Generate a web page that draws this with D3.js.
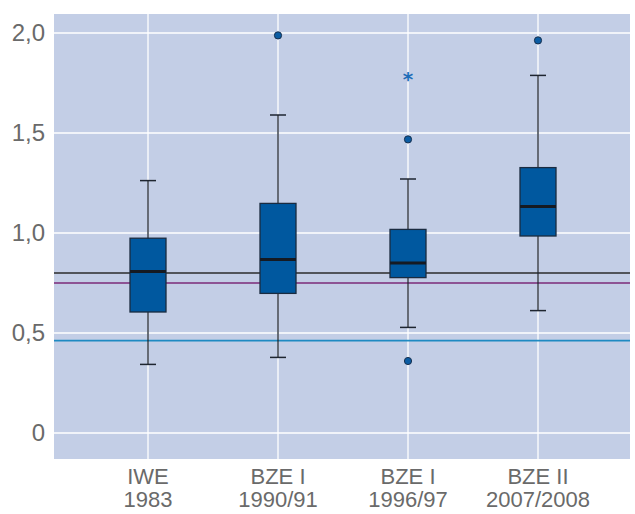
<!DOCTYPE html>
<html>
<head>
<meta charset="utf-8">
<script src="https://cdn.jsdelivr.net/npm/d3@7"></script>
<style>
  body { margin: 0; background: #fff; }
  svg text { font-family: "Liberation Sans", Arial, sans-serif; fill: #6a6a6a; }
</style>
</head>
<body>
<div id="chart"></div>
<script>
// categories (two-line labels)
const labelTop = ["IWE", "BZE I", "BZE I", "BZE II"];
const labelBottom = ["1983", "1990/91", "1996/97", "2007/2008"];
const cats = ["c0", "c1", "c2", "c3"];

// box statistics
const whiskerLow = [0.343, 0.378, 0.528, 0.612];
const q1 = [0.605, 0.698, 0.777, 0.985];
const median = [0.807, 0.867, 0.850, 1.132];
const q3 = [0.974, 1.148, 1.018, 1.327];
const whiskerHigh = [1.262, 1.590, 1.270, 1.788];

// outliers: [category index, value]
const outliers = [[1, 1.988], [2, 1.468], [2, 0.360], [3, 1.963]];
const extremes = [[2, 1.778]];

// reference lines
const refValues = [0.80, 0.75, 0.462];
const refColors = ["#2b2b2b", "#7b2a78", "#1f8ac2"];

const yTicks = [0, 0.5, 1.0, 1.5, 2.0];

const width = 635, height = 514;
const plot = {left: 54, right: 630, top: 14, bottom: 459};

const svg = d3.select("#chart").append("svg")
  .attr("width", width)
  .attr("height", height);

const y = d3.scaleLinear()
  .domain([0, 2])
  .range([433, 33]);

const x = d3.scalePoint()
  .domain(cats)
  .range([148, 538]);

// background
svg.append("rect")
  .attr("x", plot.left).attr("y", plot.top)
  .attr("width", plot.right - plot.left)
  .attr("height", plot.bottom - plot.top)
  .attr("fill", "#c3cee6");

// gridlines
svg.append("g").selectAll("line")
  .data(yTicks).enter().append("line")
  .attr("x1", plot.left).attr("x2", plot.right)
  .attr("y1", d => y(d)).attr("y2", d => y(d))
  .attr("stroke", "#fff").attr("stroke-width", 1.3);

svg.append("g").selectAll("line")
  .data(cats).enter().append("line")
  .attr("x1", d => x(d)).attr("x2", d => x(d))
  .attr("y1", plot.top).attr("y2", plot.bottom)
  .attr("stroke", "#fff").attr("stroke-width", 1.3);

// y axis labels
const yAxis = d3.axisLeft(y)
  .tickValues(yTicks)
  .tickSize(0)
  .tickPadding(9)
  .tickFormat(d => d === 0 ? "0" : d3.format(".1f")(d).replace(".", ","));

svg.append("g")
  .attr("transform", `translate(${plot.left},0)`)
  .call(yAxis)
  .call(g => g.select(".domain").remove())
  .selectAll("text")
  .style("font-size", "24px")
  .style("font-family", "'Liberation Sans', Arial, sans-serif")
  .attr("fill", "#6a6a6a");

// x labels, two lines each
const xl = svg.append("g");
cats.forEach(function(c, i) {
  xl.append("text")
    .attr("x", x(c)).attr("y", 484)
    .attr("text-anchor", "middle")
    .style("font-size", "22px")
    .text(labelTop[i]);
  xl.append("text")
    .attr("x", x(c)).attr("y", 507)
    .attr("text-anchor", "middle")
    .style("font-size", "22px")
    .text(labelBottom[i]);
});

// reference lines
svg.append("g").selectAll("line")
  .data(refValues).enter().append("line")
  .attr("x1", plot.left).attr("x2", plot.right)
  .attr("y1", d => y(d)).attr("y2", d => y(d))
  .attr("stroke", (d, i) => refColors[i])
  .attr("stroke-width", 1.6);

// boxes
const boxW = 36, capW = 16;
const boxes = svg.append("g").selectAll("g")
  .data(cats).enter().append("g");

boxes.append("line")
  .attr("x1", d => x(d)).attr("x2", d => x(d))
  .attr("y1", (d, i) => y(whiskerLow[i]))
  .attr("y2", (d, i) => y(whiskerHigh[i]))
  .attr("stroke", "#1e2530").attr("stroke-width", 1.3);

boxes.append("line")
  .attr("x1", d => x(d) - capW / 2).attr("x2", d => x(d) + capW / 2)
  .attr("y1", (d, i) => y(whiskerLow[i]))
  .attr("y2", (d, i) => y(whiskerLow[i]))
  .attr("stroke", "#1e2530").attr("stroke-width", 1.5);

boxes.append("line")
  .attr("x1", d => x(d) - capW / 2).attr("x2", d => x(d) + capW / 2)
  .attr("y1", (d, i) => y(whiskerHigh[i]))
  .attr("y2", (d, i) => y(whiskerHigh[i]))
  .attr("stroke", "#1e2530").attr("stroke-width", 1.5);

boxes.append("rect")
  .attr("x", d => x(d) - boxW / 2)
  .attr("width", boxW)
  .attr("y", (d, i) => y(q3[i]))
  .attr("height", (d, i) => y(q1[i]) - y(q3[i]))
  .attr("fill", "#00589f")
  .attr("stroke", "#1a2b40").attr("stroke-width", 1.3);

boxes.append("line")
  .attr("x1", d => x(d) - boxW / 2).attr("x2", d => x(d) + boxW / 2)
  .attr("y1", (d, i) => y(median[i]))
  .attr("y2", (d, i) => y(median[i]))
  .attr("stroke", "#151a22").attr("stroke-width", 3);

// outliers
svg.append("g").selectAll("circle")
  .data(outliers).enter().append("circle")
  .attr("cx", d => x(cats[d[0]]))
  .attr("cy", d => y(d[1]))
  .attr("r", 3.6)
  .attr("fill", "#0b5ca3")
  .attr("stroke", "#17304f").attr("stroke-width", 1);

svg.append("g").selectAll("text")
  .data(extremes).enter().append("text")
  .attr("x", d => x(cats[d[0]]))
  .attr("y", d => y(d[1]) + 9)
  .attr("text-anchor", "middle")
  .style("font-size", "20px")
  .style("font-weight", "700")
  .style("fill", "#1e6db8")
  .style("font-family", "'DejaVu Sans', sans-serif")
  .text("*");
</script>
</body>
</html>
